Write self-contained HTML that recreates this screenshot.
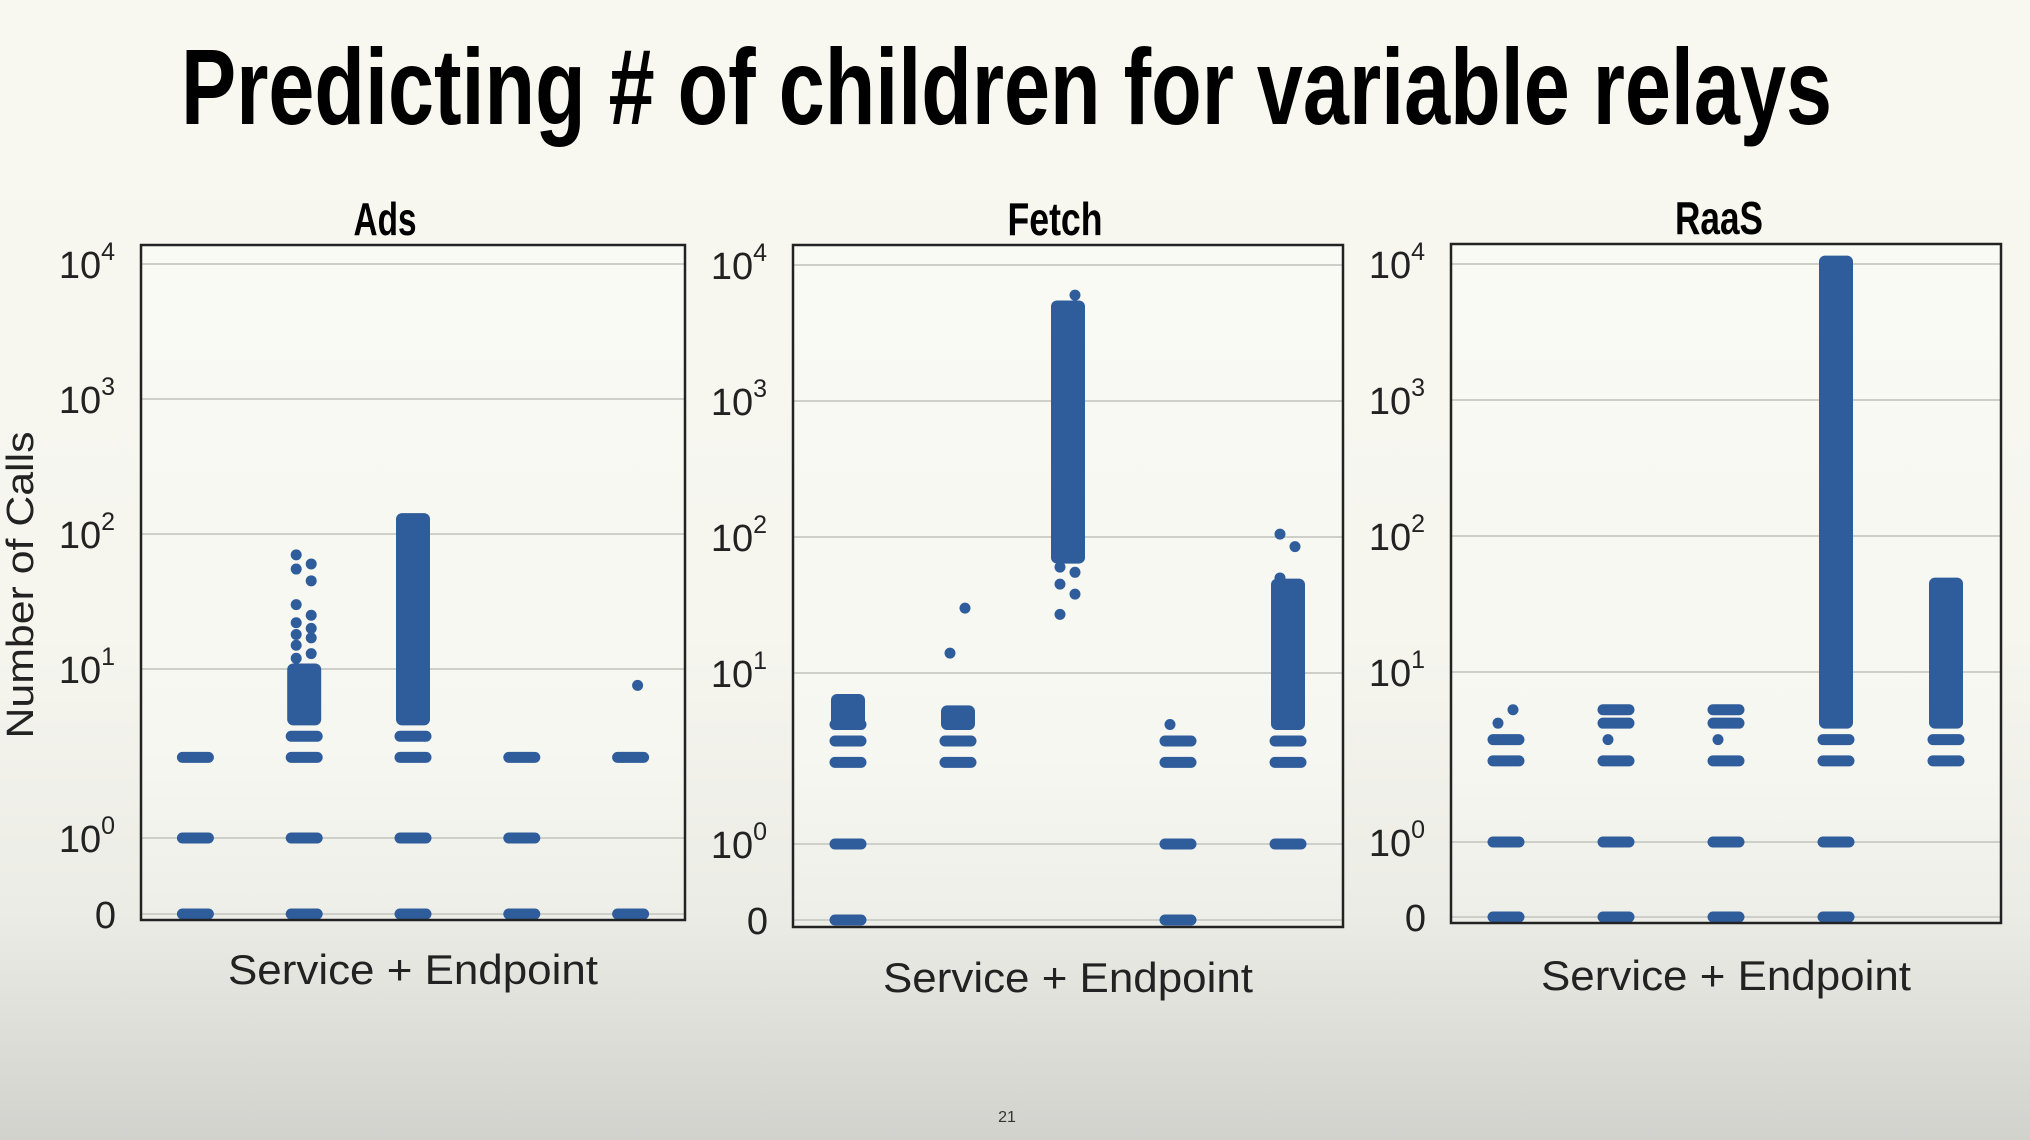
<!DOCTYPE html>
<html><head><meta charset="utf-8">
<style>
html,body{margin:0;padding:0;}
body{width:2030px;height:1140px;overflow:hidden;background:linear-gradient(180deg,#f8f8f1 0%,#f6f6ef 55%,#ecece6 80%,#d2d2cd 100%);font-family:"Liberation Sans",sans-serif;}
svg{position:absolute;left:0;top:0;}
</style></head>
<body>
<svg id="s" width="2030" height="1140" viewBox="0 0 2030 1140">
  <defs>
    <linearGradient id="pg" x1="0" y1="0" x2="0" y2="1">
      <stop offset="0" stop-color="#fafaf4"/><stop offset="0.75" stop-color="#f7f7f1"/><stop offset="1" stop-color="#eeeee8"/>
    </linearGradient>
  </defs>
  <text x="181" y="124" font-family="'Liberation Sans',sans-serif" font-weight="bold" font-size="108" textLength="1651" lengthAdjust="spacingAndGlyphs" fill="#000">Predicting # of children for variable relays</text>
  <text x="33" y="585" transform="rotate(-90 33 585)" text-anchor="middle" font-size="38" fill="#222" textLength="307" lengthAdjust="spacingAndGlyphs">Number of Calls</text>
  <text x="1007" y="1122" text-anchor="middle" font-size="16" fill="#333">21</text>
  <g id="plots"></g>
</svg>
<script>
// ---- data ----
const panelTitles = ["Ads", "Fetch", "RaaS"];
const tickValues = [0, 1, 10, 100, 1000, 10000];
const tickExps = ["", "0", "1", "2", "3", "4"];
// discrete count levels per category (rows of dots)
const adsLevels = [[0,1,3],[0,1,3,4],[0,1,3,4],[0,1,3],[0,3]];
const fetchLevels = [[0,1,3,4,5],[3,4],[],[0,1,3,4],[1,3,4]];
const raasLevels = [[0,1,3,4],[0,1,3,5,6],[0,1,3,5,6],[0,1,3,4],[3,4]];
// dense ranges [min,max] per category (null = none)
const adsDense = [null,[5,10],[5,130],null,null];
const fetchDense = [[5,7],[5,6],[70,5000],null,[5,45]];
const raasDense = [null,null,null,[5,10500],[5,45]];
// isolated single points per category
const adsSingles = [[],[12,13,15,17,18,20,22,25,30,45,55,60,70],[],[],[3,8]];
const fetchSingles = [[6],[14,30],[27,38,45,55,60,6000],[5],[50,85,105]];
const raasSingles = [[5,6],[4],[4],[],[]];

const panels = [
  {left:141,right:685,top:245,bottom:920,y0:914,y1:838,y10:669,dec:135,title:385,twidth:63,xlab:984,levels:adsLevels,dense:adsDense,singles:adsSingles},
  {left:793,right:1343,top:245,bottom:927,y0:920,y1:844,y10:673,dec:136,title:1055,twidth:95,xlab:992,levels:fetchLevels,dense:fetchDense,singles:fetchSingles},
  {left:1451,right:2001,top:244,bottom:923,y0:917,y1:842,y10:672,dec:136,title:1719,twidth:88,xlab:990,levels:raasLevels,dense:raasDense,singles:raasSingles}
];
const NS="http://www.w3.org/2000/svg";
const COLOR="#2f5d9c";
function mk(tag,attrs,parent){const e=document.createElementNS(NS,tag);for(const k in attrs)e.setAttribute(k,attrs[k]);parent.appendChild(e);return e;}
function yScale(p,v){
  if(v<=0) return p.y0;
  if(v<=1) return p.y0+(p.y1-p.y0)*v;
  if(v<=10) return p.y1-Math.log10(v)*(p.y1-p.y10);
  return p.y10-(Math.log10(v)-1)*p.dec;
}
function xScale(p,i){const w=(p.right-p.left)/5;return p.left+w*(i+0.5);}
const root=document.getElementById('plots');
panels.forEach((p,pi)=>{
  const g=mk('g',{},root);
  
  
  const bg=mk('rect',{x:p.left,y:p.top,width:p.right-p.left,height:p.bottom-p.top,fill:'url(#pg)'},g);
  
  
  tickValues.forEach((v,ti)=>{
    const y=yScale(p,v);
    const gl=mk('line',{x1:p.left,x2:p.right,y1:y,y2:y,stroke:'#cfcfca','stroke-width':2},g);
    
    
    const t=mk('text',{x:p.left-25,y:y+14,'text-anchor':'end','font-size':38,fill:'#222'},g);
    
    
    if(v===0){t.textContent='0';}
    else{t.textContent='10';const sp=mk('tspan',{dy:-18,'font-size':25},t);sp.textContent=tickExps[ti];t.setAttribute('x',p.left-26);}
  });
  for(let i=0;i<5;i++){
    const cx=xScale(p,i);
    p.levels[i].forEach(v=>{
      const y=yScale(p,v);
      const r=mk('line',{x1:cx-13,x2:cx+13,y1:y,y2:y,stroke:COLOR,'stroke-width':11,'stroke-linecap':'round'},g);
      
      
    });
    const d=p.dense[i];
    if(d){
      const ya=yScale(p,d[1]),yb=yScale(p,d[0]);
      const rr=mk('rect',{x:cx-17,y:ya-5.5,width:34,height:yb-ya+11,rx:6,fill:COLOR},g);
      
      
    }
    p.singles[i].forEach((v,k)=>{
      const c=mk('circle',{cx:cx+(k%2?7:-8),cy:yScale(p,v),r:5.5,fill:COLOR},g);
      
      
    });
  }
  const fr=mk('rect',{x:p.left,y:p.top,width:p.right-p.left,height:p.bottom-p.top,fill:'none',stroke:'#222','stroke-width':2.5},g);
  
  
  const tt=mk('text',{x:p.title,y:p.top-10,'text-anchor':'middle','font-size':46,'font-weight':'bold',fill:'#000',textLength:p.twidth,lengthAdjust:'spacingAndGlyphs'},g);
  tt.textContent=panelTitles[pi];
  
  
  const xl=mk('text',{x:(p.left+p.right)/2,y:p.xlab,'text-anchor':'middle','font-size':42,fill:'#222',textLength:370,lengthAdjust:'spacingAndGlyphs'},g);
  xl.textContent='Service + Endpoint';
  
  
});
</script>
</body></html>
